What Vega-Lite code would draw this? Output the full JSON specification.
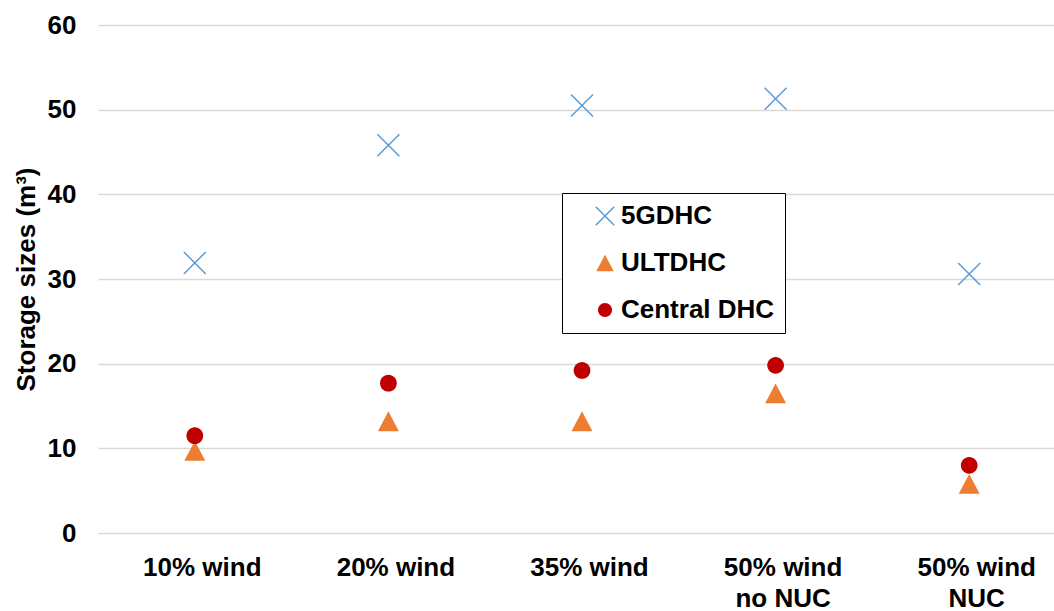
{
  "$schema": "https://vega.github.io/schema/vega-lite/v6.json",
  "width": 968,
  "height": 508,
  "autosize": {"type": "none"},
  "padding": {"left": 98, "top": 25, "right": 0, "bottom": 78},
  "background": "white",
  "config": {
    "view": {"stroke": null},
    "font": "Liberation Sans"
  },
  "data": {
    "values": [
      {"scenario": "10% wind", "series": "5GDHC", "value": 31.9},
      {"scenario": "20% wind", "series": "5GDHC", "value": 45.8},
      {"scenario": "35% wind", "series": "5GDHC", "value": 50.5},
      {"scenario": "50% wind|no NUC", "series": "5GDHC", "value": 51.3},
      {"scenario": "50% wind|NUC", "series": "5GDHC", "value": 30.6},
      {"scenario": "10% wind", "series": "ULTDHC", "value": 9.7},
      {"scenario": "20% wind", "series": "ULTDHC", "value": 13.2},
      {"scenario": "35% wind", "series": "ULTDHC", "value": 13.2},
      {"scenario": "50% wind|no NUC", "series": "ULTDHC", "value": 16.5},
      {"scenario": "50% wind|NUC", "series": "ULTDHC", "value": 5.8},
      {"scenario": "10% wind", "series": "Central DHC", "value": 11.5},
      {"scenario": "20% wind", "series": "Central DHC", "value": 17.7},
      {"scenario": "35% wind", "series": "Central DHC", "value": 19.2},
      {"scenario": "50% wind|no NUC", "series": "Central DHC", "value": 19.8},
      {"scenario": "50% wind|NUC", "series": "Central DHC", "value": 8.0}
    ]
  },
  "mark": {"type": "point", "filled": true, "size": 484, "strokeWidth": 1.5, "opacity": 1},
  "encoding": {
    "x": {
      "field": "scenario",
      "type": "nominal",
      "sort": null,
      "scale": {"paddingInner": 0, "paddingOuter": 0.5},
      "axis": {
        "title": null,
        "labelAngle": 0,
        "domain": false,
        "ticks": false,
        "labelPadding": 21,
        "labelOffset": 7,
        "labelFont": "Liberation Sans",
        "labelFontWeight": "bold",
        "labelFontSize": 26,
        "labelColor": "black",
        "labelLineHeight": 31,
        "labelExpr": "split(datum.label, '|')"
      }
    },
    "y": {
      "field": "value",
      "type": "quantitative",
      "scale": {"domain": [0, 60]},
      "axis": {
        "values": [0, 10, 20, 30, 40, 50, 60],
        "title": "Storage sizes (m³)",
        "titleFont": "Liberation Sans",
        "titleFontWeight": "bold",
        "titleFontSize": 26,
        "titleColor": "black",
        "titlePadding": 8,
        "domain": false,
        "ticks": false,
        "grid": true,
        "gridColor": "#d9d9d9",
        "gridWidth": 1.5,
        "labelPadding": 22,
        "labelFont": "Liberation Sans",
        "labelFontWeight": "bold",
        "labelFontSize": 26,
        "labelColor": "black"
      }
    },
    "shape": {
      "field": "series",
      "type": "nominal",
      "scale": {
        "domain": ["5GDHC", "ULTDHC", "Central DHC"],
        "range": ["M-1,-1L1,1M-1,1L1,-1", "M0,-0.9L0.95,0.9L-0.95,0.9Z", "M-0.76,0A0.76,0.76 0 1,0 0.76,0A0.76,0.76 0 1,0 -0.76,0Z"]
      },
      "legend": {
        "title": null,
        "orient": "none",
        "legendX": 464,
        "legendY": 168,
        "padding": 10,
        "strokeColor": "black",
        "fillColor": "white",
        "symbolOffset": 20,
        "symbolSize": 340,
        "symbolStrokeWidth": 1.5,
        "labelOffset": 3,
        "rowPadding": 21,
        "labelFont": "Liberation Sans",
        "labelFontWeight": "bold",
        "labelFontSize": 26,
        "labelColor": "black"
      }
    },
    "fill": {
      "field": "series",
      "type": "nominal",
      "scale": {
        "domain": ["5GDHC", "ULTDHC", "Central DHC"],
        "range": ["transparent", "#ED7D31", "#C00000"]
      },
      "legend": {
        "title": null,
        "orient": "none",
        "legendX": 464,
        "legendY": 168,
        "padding": 10,
        "strokeColor": "black",
        "fillColor": "white",
        "symbolOffset": 20,
        "symbolSize": 340,
        "symbolStrokeWidth": 1.5,
        "labelOffset": 3,
        "rowPadding": 21,
        "labelFont": "Liberation Sans",
        "labelFontWeight": "bold",
        "labelFontSize": 26,
        "labelColor": "black"
      }
    },
    "stroke": {
      "field": "series",
      "type": "nominal",
      "scale": {
        "domain": ["5GDHC", "ULTDHC", "Central DHC"],
        "range": ["#5B9BD5", "transparent", "transparent"]
      },
      "legend": {
        "title": null,
        "orient": "none",
        "legendX": 464,
        "legendY": 168,
        "padding": 10,
        "strokeColor": "black",
        "fillColor": "white",
        "symbolOffset": 20,
        "symbolSize": 340,
        "symbolStrokeWidth": 1.5,
        "labelOffset": 3,
        "rowPadding": 21,
        "labelFont": "Liberation Sans",
        "labelFontWeight": "bold",
        "labelFontSize": 26,
        "labelColor": "black"
      }
    }
  }
}
